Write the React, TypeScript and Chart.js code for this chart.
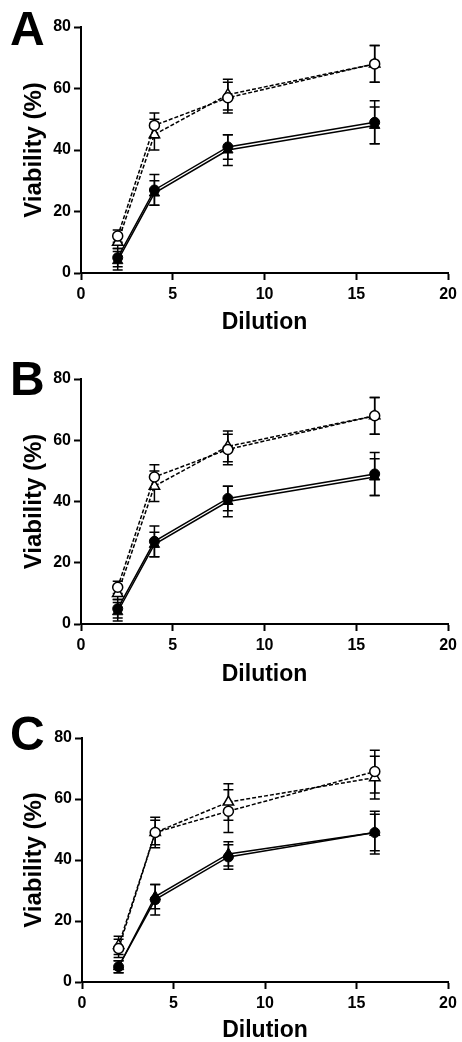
import React, { useEffect, useRef } from "react";
import { Chart, registerables } from "chart.js";

Chart.register(...registerables);

// ---- data ----
const dilutions = [2, 4, 8, 16];
const xTickValues = [0, 5, 10, 15, 20];
const yTickValues = [0, 20, 40, 60, 80];
const xAxisTitle = "Dilution";
const yAxisTitle = "Viability (%)";

// Panel A
const aOpenCircle = [12, 48, 57, 68];
const aOpenCircleErr = [2, 4, 5, 6];
const aOpenTriangle = [10, 45, 58, 68];
const aOpenTriangleErr = [2, 5, 5, 6];
const aFilledCircle = [5, 27, 41, 49];
const aFilledCircleErr = [3, 5, 4, 7];
const aFilledTriangle = [4, 26, 40, 48];
const aFilledTriangleErr = [3, 4, 5, 6];

// Panel B
const bOpenCircle = [12, 48, 57, 68];
const bOpenCircleErr = [2, 4, 5, 6];
const bOpenTriangle = [10, 45, 58, 68];
const bOpenTriangleErr = [2, 5, 5, 6];
const bFilledCircle = [5, 27, 41, 49];
const bFilledCircleErr = [3, 5, 4, 7];
const bFilledTriangle = [4, 26, 40, 48];
const bFilledTriangleErr = [3, 4, 5, 6];

// Panel C
const cOpenCircle = [11, 49, 56, 69];
const cOpenCircleErr = [3, 5, 7, 7];
const cOpenTriangle = [12, 49, 59, 67];
const cOpenTriangleErr = [3, 4, 6, 7];
const cFilledCircle = [5, 27, 41, 49];
const cFilledCircleErr = [2, 5, 4, 7];
const cFilledTriangle = [5, 28, 42, 49];
const cFilledTriangleErr = [2, 4, 4, 6];

const FONT = '"Liberation Sans", Arial, Helvetica, sans-serif';

type SeriesSet = {
  openCircle: number[]; openCircleErr: number[];
  openTriangle: number[]; openTriangleErr: number[];
  filledCircle: number[]; filledCircleErr: number[];
  filledTriangle: number[]; filledTriangleErr: number[];
};

type PanelLayout = {
  letter: string;
  top: number;
  height: number;
  chartLeft: number;
  chartRight: number;
  chartTop: number; // local
  chartBottom: number; // local
  letterBaseline: number; // local
  xTitlePad: number;
};

const panels: { layout: PanelLayout; data: SeriesSet }[] = [
  {
    layout: { letter: "A", top: 0, height: 340, chartLeft: 81, chartRight: 452, chartTop: 27, chartBottom: 273, letterBaseline: 45, xTitlePad: 6 },
    data: {
      openCircle: aOpenCircle, openCircleErr: aOpenCircleErr,
      openTriangle: aOpenTriangle, openTriangleErr: aOpenTriangleErr,
      filledCircle: aFilledCircle, filledCircleErr: aFilledCircleErr,
      filledTriangle: aFilledTriangle, filledTriangleErr: aFilledTriangleErr,
    },
  },
  {
    layout: { letter: "B", top: 340, height: 350, chartLeft: 81, chartRight: 450, chartTop: 39, chartBottom: 284, letterBaseline: 55, xTitlePad: 4 },
    data: {
      openCircle: bOpenCircle, openCircleErr: bOpenCircleErr,
      openTriangle: bOpenTriangle, openTriangleErr: bOpenTriangleErr,
      filledCircle: bFilledCircle, filledCircleErr: bFilledCircleErr,
      filledTriangle: bFilledTriangle, filledTriangleErr: bFilledTriangleErr,
    },
  },
  {
    layout: { letter: "C", top: 690, height: 352, chartLeft: 82, chartRight: 448, chartTop: 48, chartBottom: 292, letterBaseline: 60, xTitlePad: 0 },
    data: {
      openCircle: cOpenCircle, openCircleErr: cOpenCircleErr,
      openTriangle: cOpenTriangle, openTriangleErr: cOpenTriangleErr,
      filledCircle: cFilledCircle, filledCircleErr: cFilledCircleErr,
      filledTriangle: cFilledTriangle, filledTriangleErr: cFilledTriangleErr,
    },
  },
];

const W = 462;

function toPoints(ys: number[]) {
  return dilutions.map((x, i) => ({ x, y: ys[i] }));
}

const errorBarPlugin = {
  id: "errorBars",
  beforeDatasetsDraw(chart: any) {
    const { ctx, scales } = chart;
    const xs = scales.x;
    const ys = scales.y;
    ctx.save();
    ctx.strokeStyle = "#000";
    ctx.lineWidth = 1.5;
    chart.data.datasets.forEach((ds: any) => {
      const errs: number[] = ds.errors || [];
      ds.data.forEach((p: any, i: number) => {
        const e = errs[i];
        if (e == null) return;
        const px = xs.getPixelForValue(p.x);
        const t = ys.getPixelForValue(p.y + e);
        const b = ys.getPixelForValue(p.y - e);
        ctx.beginPath();
        ctx.moveTo(px, t);
        ctx.lineTo(px, b);
        ctx.moveTo(px - 5, t);
        ctx.lineTo(px + 5, t);
        ctx.moveTo(px - 5, b);
        ctx.lineTo(px + 5, b);
        ctx.stroke();
      });
    });
    ctx.restore();
  },
};

function Panel({ layout, data }: { layout: PanelLayout; data: SeriesSet }) {
  const ref = useRef<HTMLCanvasElement | null>(null);

  useEffect(() => {
    if (!ref.current) return;
    const letterPlugin = {
      id: "panelLetter",
      afterDraw(chart: any) {
        const ctx = chart.ctx;
        ctx.save();
        ctx.fillStyle = "#000";
        ctx.font = `bold 48px ${FONT}`;
        ctx.textBaseline = "alphabetic";
        ctx.textAlign = "left";
        ctx.fillText(layout.letter, 10, layout.letterBaseline);
        ctx.restore();
      },
    };

    const lineW = 1.5;
    const chart = new Chart(ref.current, {
      type: "line",
      data: {
        datasets: [
          {
            label: "open circle",
            data: toPoints(data.openCircle),
            errors: data.openCircleErr,
            borderColor: "#000",
            borderWidth: lineW,
            borderDash: [4, 2],
            pointStyle: "circle",
            pointRadius: 5,
            pointBackgroundColor: "#fff",
            pointBorderColor: "#000",
            pointBorderWidth: 1.5,
            fill: false,
            tension: 0,
          } as any,
          {
            label: "open triangle",
            data: toPoints(data.openTriangle),
            errors: data.openTriangleErr,
            borderColor: "#000",
            borderWidth: lineW,
            borderDash: [4, 2],
            pointStyle: "triangle",
            pointRadius: 6,
            pointBackgroundColor: "#fff",
            pointBorderColor: "#000",
            pointBorderWidth: 1.5,
            fill: false,
            tension: 0,
          } as any,
          {
            label: "filled circle",
            data: toPoints(data.filledCircle),
            errors: data.filledCircleErr,
            borderColor: "#000",
            borderWidth: lineW,
            pointStyle: "circle",
            pointRadius: 5,
            pointBackgroundColor: "#000",
            pointBorderColor: "#000",
            pointBorderWidth: 1,
            fill: false,
            tension: 0,
          } as any,
          {
            label: "filled triangle",
            data: toPoints(data.filledTriangle),
            errors: data.filledTriangleErr,
            borderColor: "#000",
            borderWidth: lineW,
            pointStyle: "triangle",
            pointRadius: 6,
            pointBackgroundColor: "#000",
            pointBorderColor: "#000",
            pointBorderWidth: 1,
            fill: false,
            tension: 0,
          } as any,
        ],
      },
      options: {
        responsive: false,
        animation: false,
        devicePixelRatio: 1,
        layout: {
          padding: {
            left: 0,
            top: layout.chartTop,
            right: W - layout.chartRight,
            bottom: 0,
          },
        },
        plugins: {
          legend: { display: false },
          tooltip: { enabled: false },
        },
        scales: {
          x: {
            type: "linear",
            min: 0,
            max: 20,
            afterBuildTicks: (scale: any) => {
              scale.ticks = xTickValues.map((v) => ({ value: v }));
            },
            afterFit: (scale: any) => {
              scale.height = layout.height - layout.chartBottom;
            },
            grid: {
              drawOnChartArea: false,
              drawTicks: true,
              tickLength: 7,
              tickWidth: 2,
              tickColor: "#000",
            },
            border: { display: true, color: "#000", width: 2 },
            ticks: {
              color: "#000",
              padding: 5,
              maxRotation: 0,
              font: { family: FONT, size: 16, weight: "bold" },
            },
            title: {
              display: true,
              text: xAxisTitle,
              color: "#000",
              font: { family: FONT, size: 23, weight: "bold", lineHeight: 1 },
              padding: { top: 0, bottom: layout.xTitlePad },
            },
          },
          y: {
            type: "linear",
            min: 0,
            max: 80,
            afterBuildTicks: (scale: any) => {
              scale.ticks = yTickValues.map((v) => ({ value: v }));
            },
            afterFit: (scale: any) => {
              scale.width = layout.chartLeft;
            },
            grid: {
              drawOnChartArea: false,
              drawTicks: true,
              tickLength: 7,
              tickWidth: 2,
              tickColor: "#000",
            },
            border: { display: true, color: "#000", width: 2 },
            ticks: {
              color: "#000",
              padding: 3,
              font: { family: FONT, size: 16, weight: "bold" },
            },
            title: {
              display: true,
              text: yAxisTitle,
              color: "#000",
              font: { family: FONT, size: 24, weight: "bold", lineHeight: 1 },
              padding: { top: 22, bottom: 0 },
            },
          },
        },
      } as any,
      plugins: [errorBarPlugin, letterPlugin],
    });
    return () => chart.destroy();
  }, [layout, data]);

  return (
    <div style={{ position: "absolute", left: 0, top: layout.top, width: W, height: layout.height }}>
      <canvas ref={ref} width={W} height={layout.height} style={{ display: "block", width: W, height: layout.height }} />
    </div>
  );
}

export default function App() {
  return (
    <div style={{ position: "absolute", left: 0, top: 0, width: W, height: 1042, background: "#fff", overflow: "hidden" }}>
      {panels.map((p) => (
        <Panel key={p.layout.letter} layout={p.layout} data={p.data} />
      ))}
    </div>
  );
}
